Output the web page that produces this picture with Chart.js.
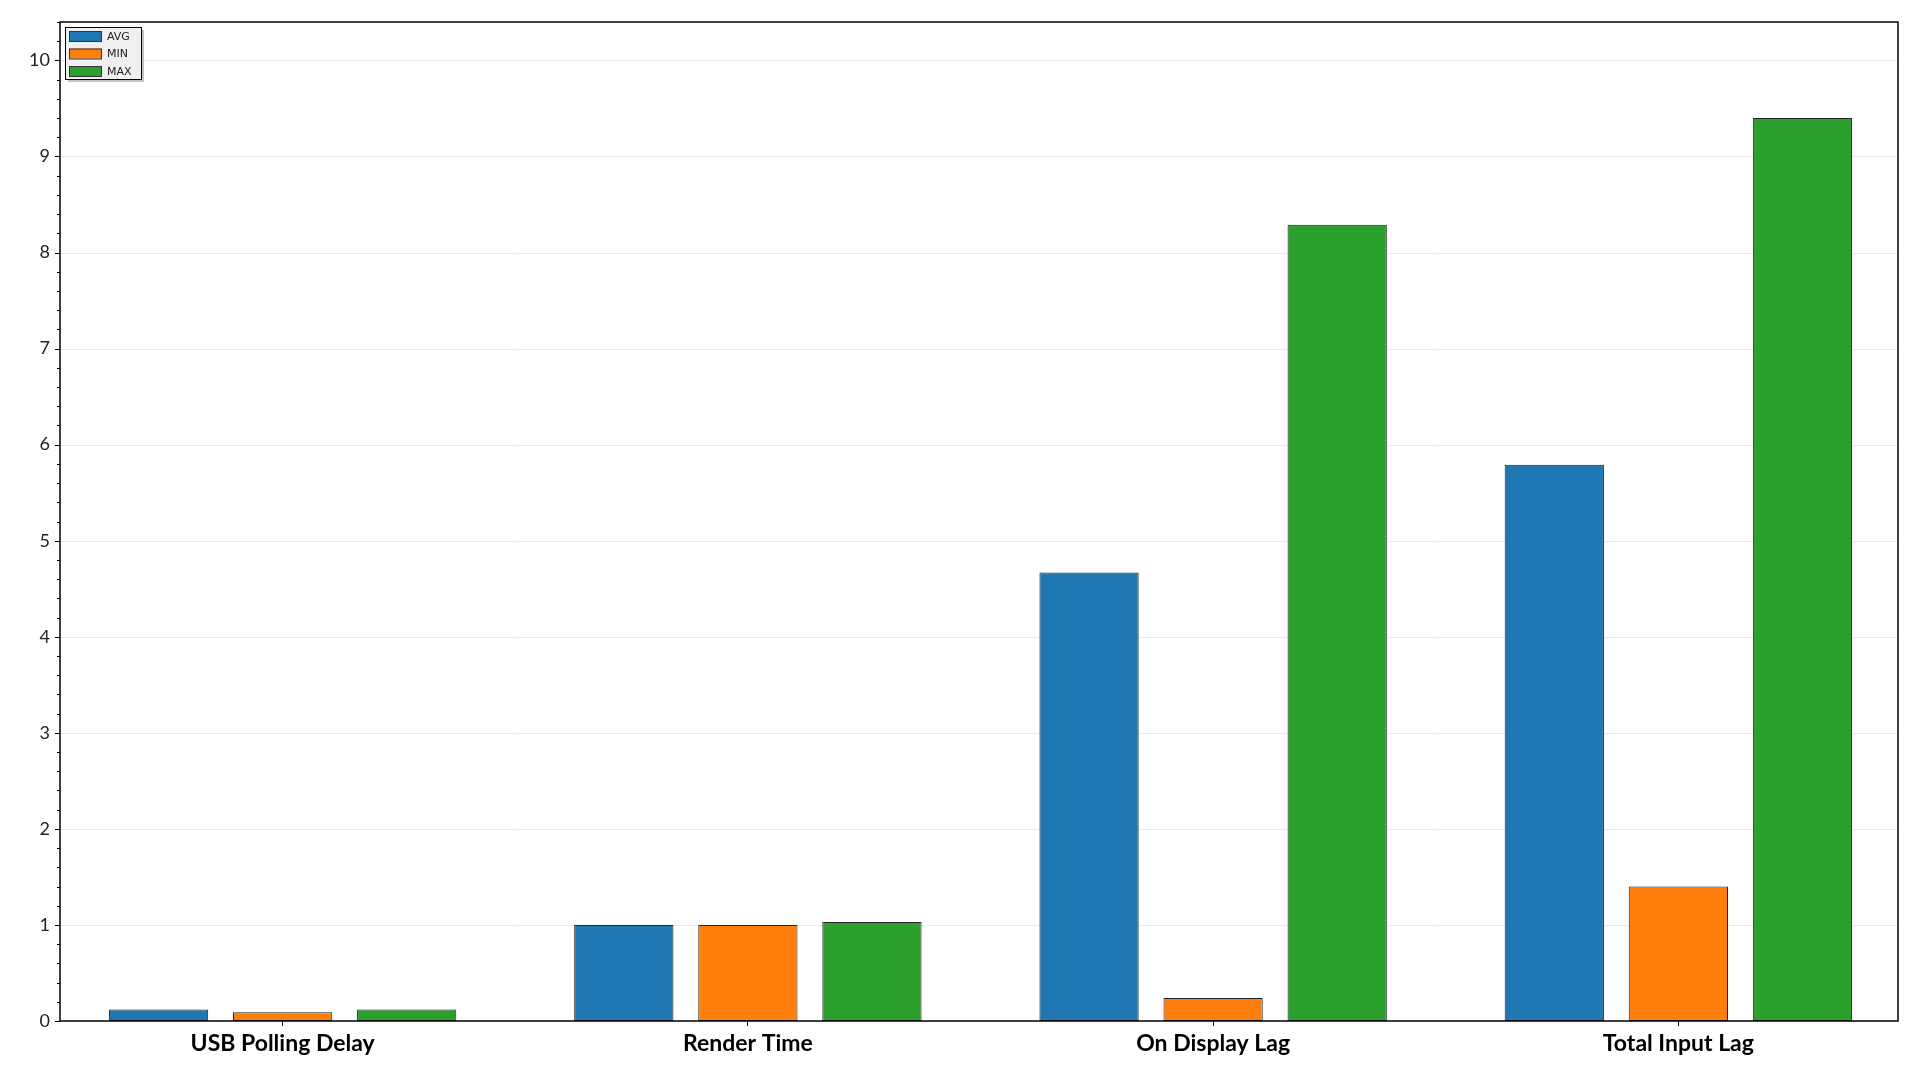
<!DOCTYPE html>
<html>
<head>
<meta charset="utf-8">
<script src="https://cdn.jsdelivr.net/npm/chart.js@4.4.1/dist/chart.umd.min.js"></script>
<style>
  html, body { margin: 0; padding: 0; background: #fff; }
  #wrap { width: 1920px; height: 1080px; }
</style>
</head>
<body>
<div id="wrap"><canvas id="barChart" width="1920" height="1080"></canvas></div>
<script>
// The data shown
const categories = ["USB Polling Delay", "Render Time", "On Display Lag", "Total Input Lag"];
const avgValues = [0.12, 1.0, 4.67, 5.79];
const minValues = [0.09, 1.0, 0.24, 1.40];
const maxValues = [0.12, 1.03, 8.29, 9.40];
const seriesNames = ["AVG", "MIN", "MAX"];
const yMax = 10.4;

const colors = ["#1f77b4", "#ff7f0e", "#2ca02c"];

// the drawn frame sits a little inside the category area (bars start closer to the edges)
const insetL = 10;
const insetR = 13;

const isWhole = (v) => Math.abs(v - Math.round(v)) < 1e-6;

const frameBox = (chartArea) => ({
  left: chartArea.left + insetL,
  right: chartArea.right - insetR,
  top: chartArea.top,
  bottom: chartArea.bottom,
});

// grid lines, frame, y tick marks and the small boxed legend in the corner
const framePlugin = {
  id: "frame",
  beforeDatasetsDraw(chart) {
    const { ctx, chartArea, scales } = chart;
    const f = frameBox(chartArea);
    ctx.save();
    ctx.strokeStyle = "#ebebeb";
    ctx.lineWidth = 1;
    scales.y.ticks.forEach((t) => {
      if (!isWhole(t.value) || t.value === 0) return;
      const py = Math.round(scales.y.getPixelForValue(t.value)) + 0.5;
      ctx.beginPath();
      ctx.moveTo(f.left, py);
      ctx.lineTo(f.right, py);
      ctx.stroke();
    });
    ctx.restore();
  },
  afterDraw(chart) {
    const { ctx, chartArea, scales } = chart;
    const f = frameBox(chartArea);
    const y = scales.y;
    ctx.save();
    ctx.strokeStyle = "#000";
    ctx.lineWidth = 1;
    y.ticks.forEach((t) => {
      const py = Math.round(y.getPixelForValue(t.value)) + 0.5;
      const len = isWhole(t.value) ? 5 : 3;
      ctx.beginPath();
      ctx.moveTo(f.left - len, py);
      ctx.lineTo(f.left, py);
      ctx.stroke();
    });
    ctx.lineWidth = 1.5;
    ctx.strokeRect(f.left, f.top, f.right - f.left, f.bottom - f.top);

    // legend
    const lx = f.left + 5, ly = f.top + 5, lw = 76, lh = 52;
    ctx.fillStyle = "#c4c4c4";
    ctx.fillRect(lx + 3, ly + 3, lw, lh);
    ctx.fillStyle = "#f0f0f0";
    ctx.fillRect(lx, ly, lw, lh);
    ctx.lineWidth = 1;
    ctx.strokeStyle = "#000";
    ctx.strokeRect(lx + 0.5, ly + 0.5, lw, lh);
    ctx.font = "11px 'DejaVu Sans'";
    ctx.textBaseline = "middle";
    chart.data.datasets.forEach((ds, i) => {
      const cy = ly + 9 + i * 17.5;
      ctx.fillStyle = ds.backgroundColor;
      ctx.fillRect(lx + 4, cy - 5, 32, 10);
      ctx.strokeStyle = "#333";
      ctx.strokeRect(lx + 4.5, cy - 4.5, 32, 10);
      ctx.fillStyle = "#222";
      ctx.fillText(ds.label, lx + 42, cy + 1);
    });
    ctx.restore();
  },
};

const canvasElement = document.querySelector("#barChart");

const config = {
  type: "bar",
  data: {
    labels: categories,
    datasets: [
      { label: seriesNames[0], data: avgValues, backgroundColor: colors[0] },
      { label: seriesNames[1], data: minValues, backgroundColor: colors[1] },
      { label: seriesNames[2], data: maxValues, backgroundColor: colors[2] },
    ].map((d) => ({
      ...d,
      borderColor: "#222",
      borderWidth: 1,
      borderSkipped: false,
      barPercentage: 0.8,
      categoryPercentage: 0.8,
    })),
  },
  options: {
    responsive: false,
    animation: false,
    layout: { padding: { top: 22, right: 9, left: 0, bottom: 0 } },
    plugins: {
      legend: { display: false },
      tooltip: { enabled: false },
    },
    scales: {
      x: {
        grid: { drawOnChartArea: false, offset: false, tickLength: 5, tickColor: "#000" },
        border: { display: false },
        ticks: {
          color: "#000",
          padding: 4,
          font: { family: "Lato", size: 23, weight: "bold" },
        },
        afterFit: (s) => { s.height = 59; },
      },
      y: {
        min: 0,
        max: yMax,
        border: { display: false },
        grid: { display: false, drawTicks: false },
        ticks: {
          stepSize: 0.2,
          autoSkip: false,
          padding: 0,
          color: "#222",
          font: { family: "Lato", size: 18 },
          callback: (v) => (isWhole(v) ? String(Math.round(v)) : ""),
        },
        afterFit: (s) => { s.width = 50; },
      },
    },
  },
  plugins: [framePlugin],
};

const barChart = new Chart(canvasElement, config);
</script>
</body>
</html>
